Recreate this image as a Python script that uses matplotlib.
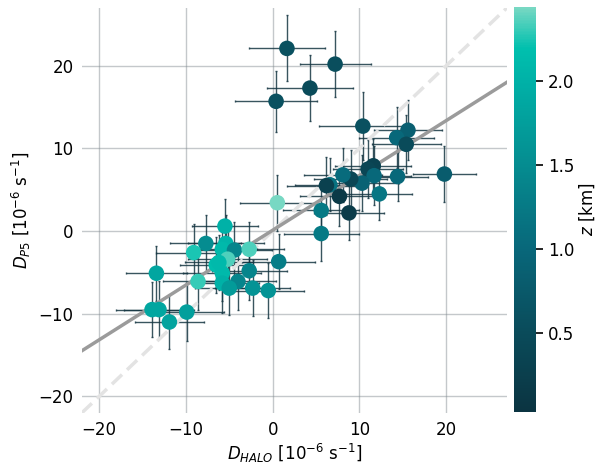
import matplotlib
matplotlib.use('Agg')
import matplotlib.pyplot as plt
import numpy as np
from matplotlib.colors import LinearSegmentedColormap, Normalize
from matplotlib.cm import ScalarMappable

# divergence estimates: HALO vs P5, with uncertainties and altitude
d_halo = [1.65, 7.2, 4.3, 0.4, 10.4, 15.6, 14.3, 15.4, 19.8, 14.4,
          11.6, 11.0, 11.7, 12.3, 10.3, 9.0, 8.1, 6.6, 6.2, 7.7,
          8.8, 5.6, 5.6, 0.54, 0.7, -5.5, -7.7, -5.4, -5.8, -4.4,
          -2.7, -9.1, -13.4, -5.2, -6.5, -6.2, -2.7, -5.8, -8.6, -5.8,
          -4.0, -5.0, -2.3, -0.5, -13.9, -13.1, -9.9, -11.9]
d_p5 = [22.1, 20.2, 17.3, 15.7, 12.7, 12.2, 11.3, 10.5, 6.9, 6.6,
        7.9, 7.5, 6.7, 4.5, 5.8, 6.3, 6.8, 5.6, 5.5, 4.2,
        2.2, 2.5, -0.3, 3.43, -3.7, 0.6, -1.5, -1.5, -2.2, -2.3,
        -2.2, -2.6, -5.1, -3.4, -4.1, -3.8, -4.8, -5.1, -6.1, -6.3,
        -6.1, -6.9, -6.9, -7.2, -9.5, -9.5, -9.8, -11.0]
err_halo = [4.4, 4.1, 5.0, 4.7, 5.0, 3.9, 4.3, 4.0, 3.6, 3.5,
            4.4, 4.0, 4.2, 3.8, 4.3, 4.2, 4.5, 4.0, 4.6, 4.5,
            4.0, 4.4, 4.3, 4.3, 4.2, 3.8, 4.1, 4.4, 4.0, 4.3,
            4.0, 4.3, 3.5, 4.5, 4.2, 3.9, 4.3, 4.5, 4.0, 4.2,
            4.4, 4.0, 4.3, 4.1, 4.2, 4.0, 4.3, 4.0]
err_p5 = [4.0, 4.0, 4.0, 3.7, 4.1, 3.6, 3.7, 3.5, 3.4, 3.0,
          3.3, 3.5, 3.6, 3.2, 3.4, 3.5, 3.3, 3.2, 3.5, 3.6,
          3.3, 3.2, 3.3, 3.4, 3.3, 3.3, 3.4, 3.5, 3.2, 3.4,
          3.3, 3.4, 3.3, 3.5, 3.4, 3.3, 3.5, 3.3, 3.4, 3.6,
          3.5, 3.3, 3.4, 3.3, 3.3, 3.4, 3.5, 3.3]
alt = [0.6, 0.55, 0.5, 0.6, 0.6, 0.85, 1.0, 0.5, 0.8, 1.0,
       0.35, 0.4, 1.0, 1.2, 0.9, 0.4, 1.05, 1.15, 0.3, 0.15,
       0.2, 1.25, 1.25, 2.44, 1.3, 2.0, 1.5, 2.05, 2.1, 1.4,
       2.35, 2.25, 1.85, 2.35, 2.15, 2.1, 1.4, 2.1, 2.3, 2.0,
       1.4, 1.7, 1.6, 1.6, 1.85, 1.85, 1.75, 1.8]

# linear fit of P5 against HALO
fit_slope = 0.663
fit_intercept = 0.1

z_min, z_max = 0.03, 2.44
xlim = (-22, 27)
ylim = (-22, 27)

cmap = LinearSegmentedColormap.from_list('teal', [
    (0.0, '#0b3441'), (0.195, '#0a4b5a'), (0.40, '#08677a'),
    (0.61, '#058c90'), (0.817, '#00b1a7'), (0.90, '#00c0ae'),
    (1.0, '#78d8c3')])
norm = Normalize(z_min, z_max)

plt.rcParams['font.size'] = 12
fig = plt.figure(figsize=(5.97, 4.65), dpi=100)
ax = fig.add_axes([0.137, 0.112, 0.712, 0.871])

for v in [-20, -10, 0, 10, 20]:
    ax.axvline(v, color='#7d878d', alpha=0.45, lw=1, zorder=0)
    ax.axhline(v, color='#7d878d', alpha=0.45, lw=1, zorder=0)

ax.errorbar(d_halo, d_p5, xerr=err_halo, yerr=err_p5, fmt='none',
            ecolor='#163743', elinewidth=1, capsize=1, alpha=0.85, zorder=1)

xx = np.array(xlim)
ax.plot(xx, xx, color='#e3e3e3', lw=2.5, dashes=(4, 2), zorder=2)
ax.plot(xx, fit_slope * xx + fit_intercept, color='#9b9b9b', lw=2.5, zorder=2)

ax.scatter(d_halo, d_p5, c=alt, cmap=cmap, norm=norm, s=125,
           edgecolors='none', zorder=3)

ax.set_xlim(xlim)
ax.set_ylim(ylim)
ax.set_xticks([-20, -10, 0, 10, 20])
ax.set_yticks([-20, -10, 0, 10, 20])
ax.tick_params(length=0, pad=6)
for s in ax.spines.values():
    s.set_visible(False)
ax.set_xlabel(r'$D_{HALO}$ [10$^{-6}$ s$^{-1}$]', labelpad=2)
ax.set_ylabel(r'$D_{P5}$ [10$^{-6}$ s$^{-1}$]')

cax = fig.add_axes([0.861, 0.114, 0.037, 0.871])
cb = fig.colorbar(ScalarMappable(norm=norm, cmap=cmap), cax=cax)
cb.outline.set_visible(False)
cb.set_ticks([0.5, 1.0, 1.5, 2.0])
cb.ax.tick_params(length=5, width=1.2)
cb.set_label(r'$z$ [km]', labelpad=2)

fig.savefig('out.png', dpi=100)
